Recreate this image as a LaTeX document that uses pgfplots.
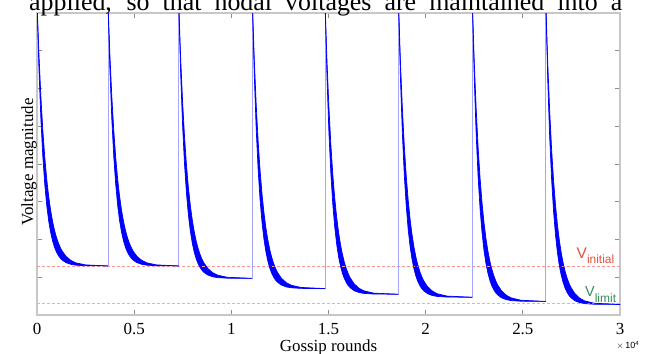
\documentclass[border=0pt]{standalone}
\usepackage{fontspec}
\setmainfont{Liberation Serif}
\newfontfamily\arial{Liberation Sans}
\usepackage{pgfplots}
\usepackage{pgfplotstable}
\pgfplotsset{compat=1.18}
\usepgfplotslibrary{fillbetween}
\definecolor{vinit}{RGB}{228,80,58}
\definecolor{vlim}{RGB}{48,140,88}
\definecolor{rdash}{RGB}{255,150,150}
\definecolor{gdash}{RGB}{140,230,140}
\definecolor{resetc}{RGB}{165,165,255}

\pgfplotstableread{
x lo hi
0 8.300 8.300
100 6.516 6.905
200 5.187 5.788
300 4.197 4.894
400 3.459 4.178
500 2.909 3.604
600 2.498 3.145
700 2.193 2.778
800 1.966 2.483
900 1.796 2.247
1000 1.670 2.059
1100 1.576 1.908
1200 1.505 1.787
1300 1.453 1.689
1500 1.385 1.550
1750 1.341 1.444
2000 1.320 1.382
2500 1.304 1.327
3650 1.300 1.300
}\segA
\pgfplotstableread{
x lo hi
3650 8.300 8.300
3750 6.516 6.905
3850 5.187 5.788
3950 4.197 4.894
4050 3.459 4.178
4150 2.909 3.604
4250 2.498 3.145
4350 2.193 2.778
4450 1.966 2.483
4550 1.796 2.247
4650 1.670 2.059
4750 1.576 1.908
4850 1.505 1.787
4950 1.453 1.689
5150 1.385 1.550
5400 1.341 1.444
5650 1.320 1.382
6150 1.304 1.327
7290 1.300 1.300
}\segB
\pgfplotstableread{
x lo hi
7290 8.300 8.300
7390 6.432 6.839
7490 5.040 5.670
7590 4.003 4.733
7690 3.231 3.983
7790 2.654 3.383
7890 2.225 2.902
7990 1.905 2.517
8090 1.667 2.209
8190 1.490 1.962
8290 1.357 1.765
8390 1.259 1.606
8490 1.185 1.479
8590 1.131 1.378
8790 1.059 1.232
9040 1.013 1.120
9290 0.991 1.056
9790 0.975 0.999
11080 0.970 0.970
}\segC
\pgfplotstableread{
x lo hi
11080 8.300 8.300
11180 6.364 6.785
11280 4.920 5.573
11380 3.845 4.602
11480 3.044 3.824
11580 2.446 3.202
11680 2.001 2.703
11780 1.670 2.304
11880 1.423 1.984
11980 1.239 1.728
12080 1.101 1.524
12180 0.999 1.360
12280 0.923 1.228
12380 0.866 1.123
12580 0.792 0.971
12830 0.744 0.856
13080 0.721 0.789
13580 0.705 0.730
14820 0.700 0.700
}\segD
\pgfplotstableread{
x lo hi
14820 8.300 8.300
14920 6.325 6.755
15020 4.854 5.519
15120 3.757 4.529
15220 2.940 3.736
15320 2.331 3.101
15420 1.877 2.593
15520 1.539 2.186
15620 1.287 1.860
15720 1.099 1.599
15820 0.959 1.390
15920 0.855 1.223
16020 0.777 1.089
16120 0.720 0.981
16320 0.644 0.827
16570 0.595 0.709
16820 0.572 0.641
17320 0.555 0.580
18600 0.550 0.550
}\segE
\pgfplotstableread{
x lo hi
18600 8.300 8.300
18700 6.305 6.739
18800 4.818 5.491
18900 3.710 4.490
19000 2.885 3.689
19100 2.269 3.048
19200 1.810 2.534
19300 1.469 2.123
19400 1.215 1.793
19500 1.025 1.529
19600 0.883 1.319
19700 0.779 1.150
19800 0.699 1.014
19900 0.641 0.905
20100 0.565 0.750
20350 0.515 0.631
20600 0.492 0.562
21100 0.475 0.501
22400 0.470 0.470
}\segF
\pgfplotstableread{
x lo hi
22400 8.300 8.300
22500 6.277 6.718
22600 4.769 5.451
22700 3.646 4.436
22800 2.809 3.624
22900 2.185 2.974
23000 1.719 2.453
23100 1.373 2.036
23200 1.115 1.702
23300 0.923 1.434
23400 0.779 1.221
23500 0.673 1.049
23600 0.593 0.912
23700 0.534 0.801
23900 0.456 0.643
24150 0.406 0.523
24400 0.382 0.453
24900 0.365 0.391
26180 0.360 0.360
}\segG
\pgfplotstableread{
x lo hi
26180 8.300 8.300
26280 6.257 6.702
26380 4.734 5.422
26480 3.599 4.397
26580 2.753 3.577
26680 2.123 2.920
26780 1.653 2.394
26880 1.303 1.973
26980 1.043 1.635
27080 0.849 1.365
27180 0.703 1.149
27280 0.596 0.976
27380 0.515 0.837
27480 0.456 0.726
27680 0.377 0.566
27930 0.327 0.444
28180 0.302 0.374
28680 0.285 0.311
30000 0.280 0.280
}\segH

\begin{document}
\begin{tikzpicture}
\begin{axis}[
  at={(37bp,39bp)}, anchor=south west,
  scale only axis, width=583bp, height=302bp,
  xmin=0, xmax=30000, ymin=0, ymax=8,
  xtick={0,5000,10000,15000,20000,25000,30000},
  xticklabels={0,0.5,1,1.5,2,2.5,3},
  scaled x ticks=false,
  ytick={1,2,3,4,5,6,7},
  yticklabels={},
  /pgf/number format/assume math mode=true,
  tick align=inside,
  major tick length=5bp,
  axis line style={draw=black!22, line width=1.1bp},
  tick style={draw=black!45, line width=0.8bp},
  xticklabel style={anchor=base, yshift=-19.8bp, font=\fontsize{17}{18}\selectfont},
  clip=true,
]
\addplot[rdash, dashed, dash pattern=on 3bp off 2bp, line width=0.8bp] coordinates {(0,1.30) (30000,1.30)};
\addplot[gdash, dashed, dash pattern=on 3bp off 2bp, line width=0.8bp] coordinates {(0,0.32) (30000,0.32)};

\addplot[resetc, line width=0.8bp] coordinates {(3650,1.30) (3650,8.5)};
\addplot[resetc, line width=0.8bp] coordinates {(7290,1.30) (7290,8.5)};
\addplot[resetc, line width=0.8bp] coordinates {(11080,0.97) (11080,8.5)};
\addplot[resetc, line width=0.8bp] coordinates {(14820,0.70) (14820,8.5)};
\addplot[resetc, line width=0.8bp] coordinates {(18600,0.55) (18600,8.5)};
\addplot[resetc, line width=0.8bp] coordinates {(22400,0.47) (22400,8.5)};
\addplot[resetc, line width=0.8bp] coordinates {(26180,0.36) (26180,8.5)};

\addplot[blue, line width=0.7bp, name path=loA] table[x=x,y=lo]{\segA};
\addplot[blue, line width=0.7bp, name path=hiA] table[x=x,y=hi]{\segA};
\addplot[blue] fill between[of=loA and hiA];
\addplot[blue, line width=0.7bp, name path=loB] table[x=x,y=lo]{\segB};
\addplot[blue, line width=0.7bp, name path=hiB] table[x=x,y=hi]{\segB};
\addplot[blue] fill between[of=loB and hiB];
\addplot[blue, line width=0.7bp, name path=loC] table[x=x,y=lo]{\segC};
\addplot[blue, line width=0.7bp, name path=hiC] table[x=x,y=hi]{\segC};
\addplot[blue] fill between[of=loC and hiC];
\addplot[blue, line width=0.7bp, name path=loD] table[x=x,y=lo]{\segD};
\addplot[blue, line width=0.7bp, name path=hiD] table[x=x,y=hi]{\segD};
\addplot[blue] fill between[of=loD and hiD];
\addplot[blue, line width=0.7bp, name path=loE] table[x=x,y=lo]{\segE};
\addplot[blue, line width=0.7bp, name path=hiE] table[x=x,y=hi]{\segE};
\addplot[blue] fill between[of=loE and hiE];
\addplot[blue, line width=0.7bp, name path=loF] table[x=x,y=lo]{\segF};
\addplot[blue, line width=0.7bp, name path=hiF] table[x=x,y=hi]{\segF};
\addplot[blue] fill between[of=loF and hiF];
\addplot[blue, line width=0.7bp, name path=loG] table[x=x,y=lo]{\segG};
\addplot[blue, line width=0.7bp, name path=hiG] table[x=x,y=hi]{\segG};
\addplot[blue] fill between[of=loG and hiG];
\addplot[blue, line width=0.7bp, name path=loH] table[x=x,y=lo]{\segH};
\addplot[blue, line width=0.7bp, name path=hiH] table[x=x,y=hi]{\segH};
\addplot[blue] fill between[of=loH and hiH];
\end{axis}

% paper text cut off at the top
\node[anchor=base west, inner sep=0] at (29bp,343.5bp)
  {\fontsize{26}{28}\selectfont\makebox[593bp][s]{applied, so that nodal voltages are maintained into a}};

% axis labels
\node[anchor=base, inner sep=0] at (328.5bp,2.8bp) {\fontsize{17}{18}\selectfont Gossip rounds};
\node[anchor=base, inner sep=0, rotate=90] at (33bp,192bp) {\fontsize{17}{18}\selectfont Voltage magnitude};
\node[anchor=base west, inner sep=0] at (616.5bp,5.5bp) {\arial\fontsize{9}{10}\selectfont $\times$\,10\raisebox{3.5bp}{\fontsize{6}{7}\selectfont 4}};

% V labels
\node[anchor=base west, inner sep=0, text=vinit] at (576.5bp,95.7bp)
  {\arial\fontsize{15.5}{16}\selectfont V\raisebox{-5bp}{\fontsize{12}{13}\selectfont initial}};
\node[anchor=base west, inner sep=0, text=vlim] at (585bp,57.3bp)
  {\arial\fontsize{14.5}{15}\selectfont V\raisebox{-6bp}{\fontsize{12}{13}\selectfont limit}};

\pgfresetboundingbox
\path[use as bounding box] (0,0) rectangle (649bp,354bp);
\end{tikzpicture}
\end{document}
